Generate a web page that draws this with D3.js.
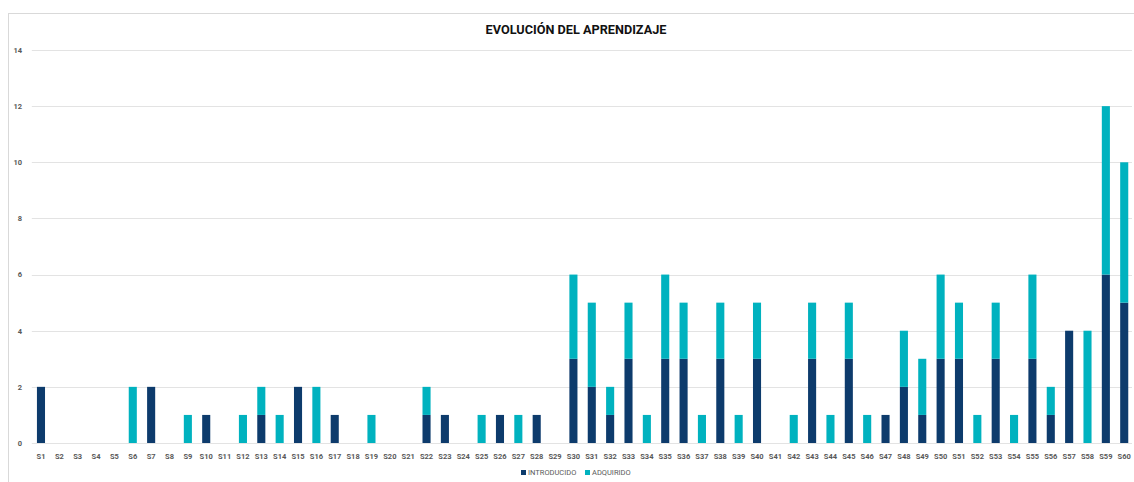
<!DOCTYPE html>
<html>
<head>
<meta charset="utf-8">
<script src="https://cdn.jsdelivr.net/npm/d3@7"></script>
<style>
  html, body { margin: 0; padding: 0; background: #fff; }
  svg { display: block; font-family: Roboto, "Open Sans", sans-serif; }
</style>
</head>
<body>
<svg id="chart" width="1134" height="482"></svg>
<script>
// --- DATA ---
const sessions = d3.range(1, 61).map(i => "S" + i);
const introducido = [2,0,0,0,0,0,2,0,0,1, 0,0,1,0,2,0,1,0,0,0, 0,1,1,0,0,1,0,1,0,3,
                     2,1,3,0,3,3,0,3,0,3, 0,0,3,0,3,0,1,2,1,3, 3,0,3,0,3,1,4,0,6,5];
const adquirido   = [0,0,0,0,0,2,0,0,1,0, 0,1,1,1,0,2,0,0,1,0, 0,1,0,0,1,0,1,0,0,3,
                     3,1,2,1,3,2,1,2,1,2, 0,1,2,1,2,1,0,2,2,3, 2,1,2,1,3,1,0,4,6,5];
const yTicks = [0, 2, 4, 6, 8, 10, 12, 14];
const seriesNames = ["INTRODUCIDO", "ADQUIRIDO"];

// --- CONFIG ---
const colors = { INTRODUCIDO: "#0d3b6c", ADQUIRIDO: "#00b2bf" };
const svg = d3.select("#chart");
const plot = { left: 31.8, right: 1133.4, top: 50, bottom: 443 };

// Chart frame
svg.append("rect")
    .attr("x", 8.5).attr("y", 13.5)
    .attr("width", 1140).attr("height", 500)
    .attr("fill", "none").attr("stroke", "#d9d9d9").attr("stroke-width", 1);

// Title
svg.append("text")
    .attr("x", 576).attr("y", 34)
    .attr("text-anchor", "middle")
    .style("font-size", "12.7px").style("font-weight", 700)
    .style("fill", "#111")
    .text("EVOLUCIÓN DEL APRENDIZAJE");

// Scales
const x = d3.scaleBand().domain(sessions)
    .range([plot.left, plot.right])
    .paddingInner(0.56).paddingOuter(0.28);
const y = d3.scaleLinear().domain([0, 14]).range([plot.bottom, plot.top]);

// Gridlines
svg.append("g").selectAll("line").data(yTicks).join("line")
    .attr("x1", plot.left).attr("x2", 1132)
    .attr("y1", d => Math.round(y(d)) + 0.5).attr("y2", d => Math.round(y(d)) + 0.5)
    .attr("stroke", "#e3e3e3").attr("stroke-width", 1);

// Y axis labels
const yAxis = d3.axisLeft(y).tickValues(yTicks).tickSize(0).tickPadding(0);
svg.append("g").attr("transform", `translate(22,0)`).call(yAxis)
    .call(g => g.select(".domain").remove())
    .selectAll("text")
    .style("font-family", "Roboto, sans-serif")
    .style("font-size", "7.5px").style("font-weight", 700).style("fill", "#595959");

// Stacked bars
const table = sessions.map((s, i) => ({ session: s, INTRODUCIDO: introducido[i], ADQUIRIDO: adquirido[i] }));
const stacked = d3.stack().keys(seriesNames)(table);
svg.append("g").selectAll("g").data(stacked).join("g")
    .attr("fill", d => colors[d.key])
    .selectAll("rect").data(d => d).join("rect")
    .attr("x", d => x(d.data.session))
    .attr("width", x.bandwidth())
    .attr("y", d => y(d[1]))
    .attr("height", d => y(d[0]) - y(d[1]));

// X axis labels
const xAxis = d3.axisBottom(x).tickSize(0).tickPadding(0);
svg.append("g").attr("transform", `translate(0,${plot.bottom + 16})`).call(xAxis)
    .call(g => g.select(".domain").remove())
    .selectAll("text")
    .attr("dy", 0)
    .style("font-family", "Roboto, sans-serif")
    .style("font-size", "7.5px").style("font-weight", 700).style("fill", "#595959");

// Legend
const legend = svg.append("g").attr("transform", "translate(521,475)");
const legendX = [0, 64];
seriesNames.forEach((name, i) => {
    const g = legend.append("g").attr("transform", `translate(${legendX[i]},0)`);
    g.append("rect").attr("x", 0).attr("y", -5).attr("width", 5).attr("height", 5).attr("fill", colors[name]);
    g.append("text").attr("x", 7).attr("y", 0)
        .style("font-size", "7.5px").style("fill", "#595959")
        .text(name);
});
</script>
</body>
</html>
